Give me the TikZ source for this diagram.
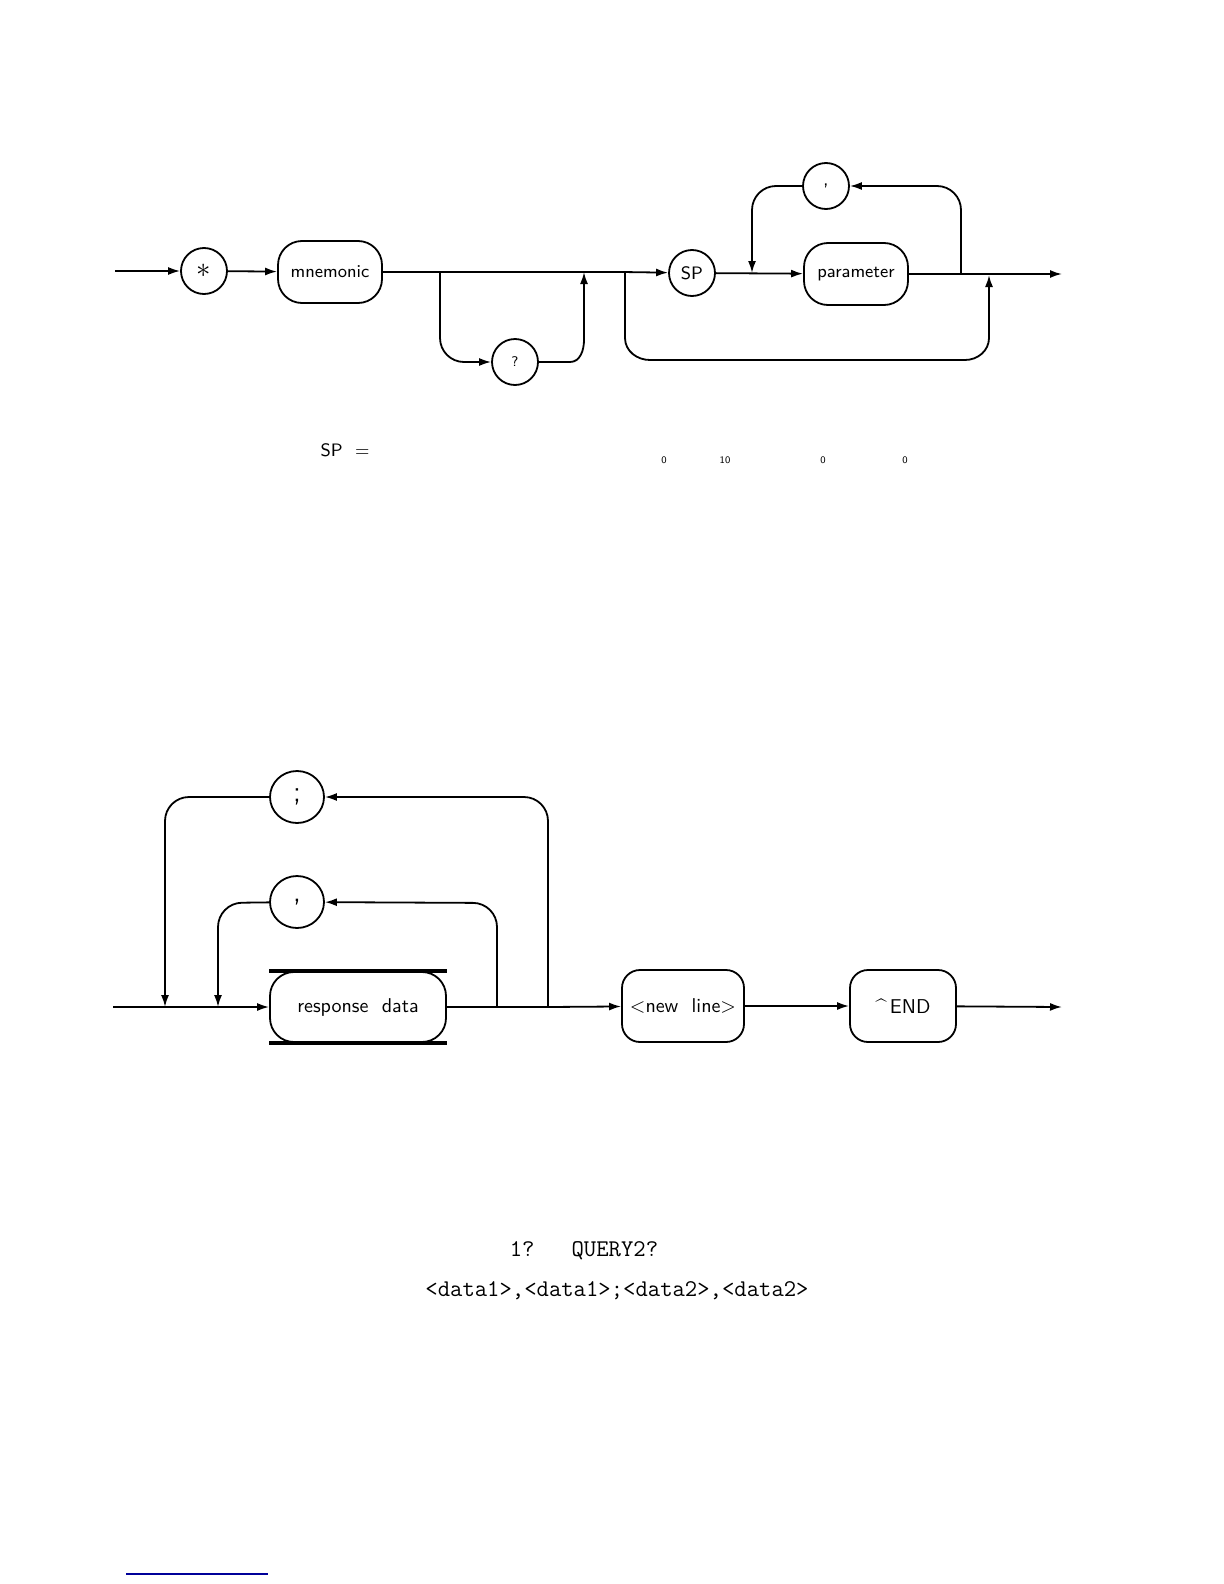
\documentclass[tikz,border=0pt]{standalone}
\usepackage{tikz}
\usetikzlibrary{positioning, arrows.meta, shapes.geometric}

\begin{document}
\begin{tikzpicture}[
  x=0.5pt, y=-0.5pt,
  line width=0.9pt,
  font=\sffamily,
  term/.style     ={ellipse, draw, minimum width=23pt, minimum height=23pt, inner sep=0pt},
  termb/.style    ={ellipse, draw, minimum width=27pt, minimum height=26pt, inner sep=0pt, font=\sffamily\Large},
  box/.style      ={rectangle, draw, minimum width=52pt, minimum height=31pt, font=\sffamily\small},
  rbox/.style     ={rectangle, draw, rounded corners=9pt, minimum width=61pt, minimum height=36pt},
  >={Latex[length=6pt,width=4pt]}, ->,
  rounded corners=12pt
]
\useasboundingbox (0,0) rectangle (1224,1584);

%--- Top diagram ------------------------------------------------------------
\node[term]  (star)  at (204,271) {\Large$\ast$};
\node[box]   (mnem)  at (330,272) {mnemonic};
\node[term]  (qm)    at (515,362) {\scriptsize ?};
\node[term]  (sp)    at (692,273) {\small SP};
\node[box]   (param) at (856,274) {parameter};
\node[term]  (comma) at (826,186) {,};
\coordinate (start1) at (115,271);
\coordinate (end1)   at (1062,274);

\draw (start1) -- (star);
\draw (star) -- (mnem);
\draw[-] (mnem) -- (622,272);
\draw (440,272) -- (440,362) -- (qm);
\draw[rounded corners=0pt] (qm) -- (570,362) to[out=0,in=-90] (584,340) -- (584,272);
\draw (622,272) -- (sp);
\draw (sp) -- (param);
\draw (961,274) -- (961,186) -- (comma);
\draw (comma) -- (752,186) -- (752,273);
\draw (param) -- (end1);
\draw[rounded corners=0pt] (625,272) -- (625,338) to[out=-90,in=180] (650,360) -- (965,360)
     to[out=0,in=-90] (989,338) -- (989,275);

\node (spdef) at (345,450) {\small SP\ \ =};
\foreach \x/\t in {664/0, 725/10, 823/0, 905/0}
  \node[font=\sffamily\tiny] at (\x,460) {\t};

%--- Bottom diagram ---------------------------------------------------------
\node[box, minimum width=88pt, minimum height=35pt, font=\sffamily] (resp) at (358,1007) {response\ \ data};
\draw[line width=2pt,-] (resp.north west) -- (resp.north east) (resp.south west) -- (resp.south east);
\node[termb] (semi)  at (297,797) {;};
\node[termb] (comb)  at (297,902) {,};
\node[rbox]  (nl)    at (683,1006) {<new\ \ line>};
\node[rbox, minimum width=53pt] (eoi) at (903,1006) {\textasciicircum\,END};
\coordinate (start2) at (113,1007);
\coordinate (end2)   at (1062,1007);

\draw (start2) -- (resp);
\draw (548,1007) -- (548,797) -- (semi);
\draw (semi) -- (165,797) -- (165,1007);
\draw (497,1007) -- (497,903) -- (comb);
\draw (comb) -- (218,903) -- (218,1007);
\draw[-] (resp) -- (548,1007);
\draw (548,1007) -- (nl);
\draw (nl) -- (eoi);
\draw (eoi) -- (end2);

\node[font=\ttfamily\large] (q)  at (584,1251) {1?\ \ \ QUERY2?};
\node[font=\ttfamily\large] (ex) at (617,1291) {<data1>,<data1>;<data2>,<data2>};
\draw[-, blue!60!black, line width=0.6pt, rounded corners=0pt] (126,1574) -- (268,1574);
\end{tikzpicture}
\end{document}
